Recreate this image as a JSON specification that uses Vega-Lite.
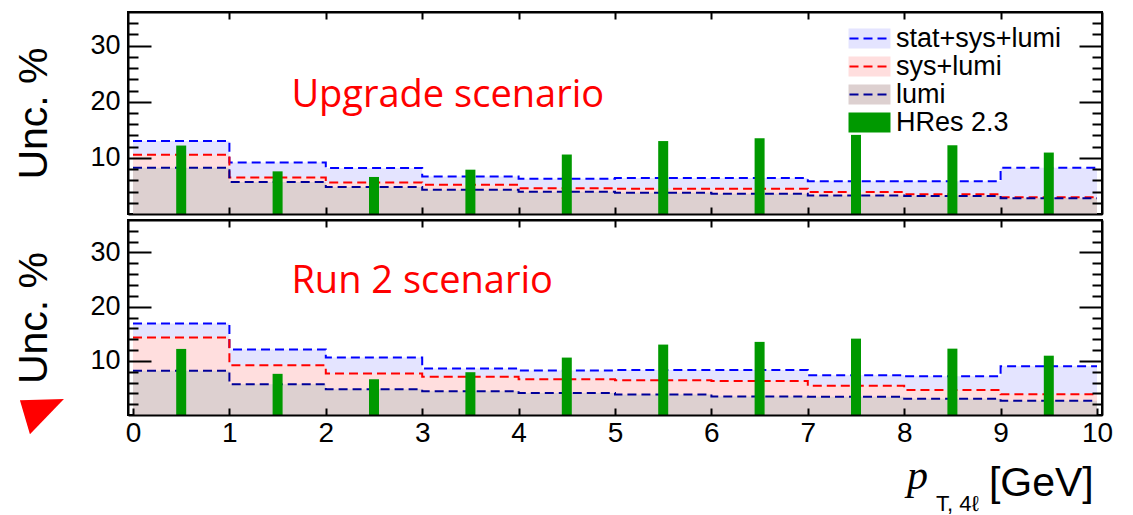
{
  "$schema": "https://vega.github.io/schema/vega-lite/v6.json",
  "padding": {"left": 12, "top": 8, "right": 0, "bottom": 0},
  "background": "white",
  "datasets": {
    "unc": [
      {"scenario": "Upgrade", "series": "stat+sys+lumi", "lo": 0, "hi": 1, "unc": 13.0},
      {"scenario": "Upgrade", "series": "stat+sys+lumi", "lo": 1, "hi": 2, "unc": 9.2},
      {"scenario": "Upgrade", "series": "stat+sys+lumi", "lo": 2, "hi": 3, "unc": 8.2},
      {"scenario": "Upgrade", "series": "stat+sys+lumi", "lo": 3, "hi": 4, "unc": 6.7},
      {"scenario": "Upgrade", "series": "stat+sys+lumi", "lo": 4, "hi": 5, "unc": 6.3},
      {"scenario": "Upgrade", "series": "stat+sys+lumi", "lo": 5, "hi": 6, "unc": 6.4},
      {"scenario": "Upgrade", "series": "stat+sys+lumi", "lo": 6, "hi": 7, "unc": 6.4},
      {"scenario": "Upgrade", "series": "stat+sys+lumi", "lo": 7, "hi": 8, "unc": 5.85},
      {"scenario": "Upgrade", "series": "stat+sys+lumi", "lo": 8, "hi": 9, "unc": 5.85},
      {"scenario": "Upgrade", "series": "stat+sys+lumi", "lo": 9, "hi": 10, "unc": 8.25},
      {"scenario": "Upgrade", "series": "sys+lumi", "lo": 0, "hi": 1, "unc": 10.55},
      {"scenario": "Upgrade", "series": "sys+lumi", "lo": 1, "hi": 2, "unc": 6.5},
      {"scenario": "Upgrade", "series": "sys+lumi", "lo": 2, "hi": 3, "unc": 5.6},
      {"scenario": "Upgrade", "series": "sys+lumi", "lo": 3, "hi": 4, "unc": 5.2},
      {"scenario": "Upgrade", "series": "sys+lumi", "lo": 4, "hi": 5, "unc": 4.6},
      {"scenario": "Upgrade", "series": "sys+lumi", "lo": 5, "hi": 6, "unc": 4.5},
      {"scenario": "Upgrade", "series": "sys+lumi", "lo": 6, "hi": 7, "unc": 4.5},
      {"scenario": "Upgrade", "series": "sys+lumi", "lo": 7, "hi": 8, "unc": 3.9},
      {"scenario": "Upgrade", "series": "sys+lumi", "lo": 8, "hi": 9, "unc": 3.5},
      {"scenario": "Upgrade", "series": "sys+lumi", "lo": 9, "hi": 10, "unc": 3.0},
      {"scenario": "Upgrade", "series": "lumi", "lo": 0, "hi": 1, "unc": 8.25},
      {"scenario": "Upgrade", "series": "lumi", "lo": 1, "hi": 2, "unc": 5.7},
      {"scenario": "Upgrade", "series": "lumi", "lo": 2, "hi": 3, "unc": 4.8},
      {"scenario": "Upgrade", "series": "lumi", "lo": 3, "hi": 4, "unc": 4.3},
      {"scenario": "Upgrade", "series": "lumi", "lo": 4, "hi": 5, "unc": 3.95},
      {"scenario": "Upgrade", "series": "lumi", "lo": 5, "hi": 6, "unc": 3.8},
      {"scenario": "Upgrade", "series": "lumi", "lo": 6, "hi": 7, "unc": 3.6},
      {"scenario": "Upgrade", "series": "lumi", "lo": 7, "hi": 8, "unc": 3.3},
      {"scenario": "Upgrade", "series": "lumi", "lo": 8, "hi": 9, "unc": 3.2},
      {"scenario": "Upgrade", "series": "lumi", "lo": 9, "hi": 10, "unc": 2.8},
      {"scenario": "Run2", "series": "stat+sys+lumi", "lo": 0, "hi": 1, "unc": 16.9},
      {"scenario": "Run2", "series": "stat+sys+lumi", "lo": 1, "hi": 2, "unc": 12.1},
      {"scenario": "Run2", "series": "stat+sys+lumi", "lo": 2, "hi": 3, "unc": 10.6},
      {"scenario": "Run2", "series": "stat+sys+lumi", "lo": 3, "hi": 4, "unc": 8.6},
      {"scenario": "Run2", "series": "stat+sys+lumi", "lo": 4, "hi": 5, "unc": 8.2},
      {"scenario": "Run2", "series": "stat+sys+lumi", "lo": 5, "hi": 6, "unc": 8.3},
      {"scenario": "Run2", "series": "stat+sys+lumi", "lo": 6, "hi": 7, "unc": 8.3},
      {"scenario": "Run2", "series": "stat+sys+lumi", "lo": 7, "hi": 8, "unc": 7.35},
      {"scenario": "Run2", "series": "stat+sys+lumi", "lo": 8, "hi": 9, "unc": 7.15},
      {"scenario": "Run2", "series": "stat+sys+lumi", "lo": 9, "hi": 10, "unc": 9.0},
      {"scenario": "Run2", "series": "sys+lumi", "lo": 0, "hi": 1, "unc": 14.3},
      {"scenario": "Run2", "series": "sys+lumi", "lo": 1, "hi": 2, "unc": 9.2},
      {"scenario": "Run2", "series": "sys+lumi", "lo": 2, "hi": 3, "unc": 7.65},
      {"scenario": "Run2", "series": "sys+lumi", "lo": 3, "hi": 4, "unc": 7.05},
      {"scenario": "Run2", "series": "sys+lumi", "lo": 4, "hi": 5, "unc": 6.6},
      {"scenario": "Run2", "series": "sys+lumi", "lo": 5, "hi": 6, "unc": 6.4},
      {"scenario": "Run2", "series": "sys+lumi", "lo": 6, "hi": 7, "unc": 6.3},
      {"scenario": "Run2", "series": "sys+lumi", "lo": 7, "hi": 8, "unc": 5.4},
      {"scenario": "Run2", "series": "sys+lumi", "lo": 8, "hi": 9, "unc": 4.6},
      {"scenario": "Run2", "series": "sys+lumi", "lo": 9, "hi": 10, "unc": 3.85},
      {"scenario": "Run2", "series": "lumi", "lo": 0, "hi": 1, "unc": 8.15},
      {"scenario": "Run2", "series": "lumi", "lo": 1, "hi": 2, "unc": 5.7},
      {"scenario": "Run2", "series": "lumi", "lo": 2, "hi": 3, "unc": 4.75},
      {"scenario": "Run2", "series": "lumi", "lo": 3, "hi": 4, "unc": 4.4},
      {"scenario": "Run2", "series": "lumi", "lo": 4, "hi": 5, "unc": 4.05},
      {"scenario": "Run2", "series": "lumi", "lo": 5, "hi": 6, "unc": 3.8},
      {"scenario": "Run2", "series": "lumi", "lo": 6, "hi": 7, "unc": 3.4},
      {"scenario": "Run2", "series": "lumi", "lo": 7, "hi": 8, "unc": 3.35},
      {"scenario": "Run2", "series": "lumi", "lo": 8, "hi": 9, "unc": 3.0},
      {"scenario": "Run2", "series": "lumi", "lo": 9, "hi": 10, "unc": 2.65}
    ],
    "hres": [
      {"center": 0.5, "unc": 12.2, "series": "HRes 2.3"},
      {"center": 1.5, "unc": 7.6, "series": "HRes 2.3"},
      {"center": 2.5, "unc": 6.6, "series": "HRes 2.3"},
      {"center": 3.5, "unc": 7.9, "series": "HRes 2.3"},
      {"center": 4.5, "unc": 10.6, "series": "HRes 2.3"},
      {"center": 5.5, "unc": 13.0, "series": "HRes 2.3"},
      {"center": 6.5, "unc": 13.5, "series": "HRes 2.3"},
      {"center": 7.5, "unc": 14.1, "series": "HRes 2.3"},
      {"center": 8.5, "unc": 12.25, "series": "HRes 2.3"},
      {"center": 9.5, "unc": 10.95, "series": "HRes 2.3"}
    ]
  },
  "spacing": -2,
  "resolve": {"scale": {"x": "independent", "y": "independent", "fill": "independent", "stroke": "independent"}},
  "vconcat": [
    {
      "width": 974,
      "height": 202,
      "resolve": {"axis": {"x": "independent", "y": "independent"}},
      "layer": [
        {
          "data": {"name": "unc"},
          "transform": [
            {"filter": "datum.scenario === 'Upgrade' && datum.series === 'stat+sys+lumi'"},
            {"fold": ["lo", "hi"], "as": ["edge", "x"]}
          ],
          "mark": {"type": "area", "opacity": 1},
          "encoding": {
            "x": {"field": "x", "type": "quantitative", "scale": {"domain": [0, 10], "nice": false, "zero": false},
              "axis": {"orient": "bottom", "values": [1, 2, 3, 4, 5, 6, 7, 8, 9], "labels": false, "tickSize": -7, "tickWidth": 2, "tickColor": "black", "domain": true, "domainColor": "black", "domainWidth": 2, "grid": false, "title": null, "zindex": 1}},
            "y": {"field": "unc", "type": "quantitative", "stack": null, "scale": {"domain": [0, 36], "nice": false},
              "axis": {"orient": "left", "values": [2, 4, 6, 8, 10, 12, 14, 16, 18, 20, 22, 24, 26, 28, 30, 32, 34], "labelExpr": "datum.value % 10 === 0 ? datum.label : ''", "labelOverlap": false, "tickSize": {"condition": {"test": "datum.value % 10 === 0", "value": -23}, "value": -10}, "tickWidth": 2, "tickColor": "black", "labelPadding": 31, "labelFont": "Liberation Sans", "labelFontSize": 27, "labelColor": "black", "domain": true, "domainColor": "black", "domainWidth": 2, "grid": false, "title": "Unc. %", "titleFont": "Liberation Sans", "titleFontSize": 41, "titleFontWeight": "normal", "titleColor": "black", "titlePadding": 34, "zindex": 1}},
            "fill": {"field": "series", "type": "nominal",
              "scale": {"domain": ["stat+sys+lumi", "sys+lumi", "lumi", "HRes 2.3"], "range": ["#e4e4ff", "#ffdede", "#ddd0d0", "#009900"]},
              "legend": {"orient": "none", "legendX": 728, "legendY": 13, "title": null, "direction": "vertical", "symbolType": "M-1.615,-0.769H1.615V0.769H-1.615Z", "symbolSize": 676, "symbolStrokeWidth": 0, "symbolOpacity": 1, "labelFont": "Liberation Sans", "labelFontSize": 27, "labelColor": "black", "labelOffset": 13, "labelLimit": 300, "rowPadding": 0, "padding": 0}},
            "order": [{"field": "x", "type": "quantitative"}, {"field": "edge", "type": "nominal"}]
          }
        },
        {
          "data": {"name": "unc"},
          "transform": [
            {"filter": "datum.scenario === 'Upgrade' && datum.series === 'sys+lumi'"},
            {"fold": ["lo", "hi"], "as": ["edge", "x"]}
          ],
          "mark": {"type": "area", "opacity": 1},
          "encoding": {
            "x": {"field": "x", "type": "quantitative", "axis": null},
            "y": {"field": "unc", "type": "quantitative", "stack": null, "axis": null},
            "fill": {"field": "series", "type": "nominal", "legend": null},
            "order": [{"field": "x", "type": "quantitative"}, {"field": "edge", "type": "nominal"}]
          }
        },
        {
          "data": {"name": "unc"},
          "transform": [
            {"filter": "datum.scenario === 'Upgrade' && datum.series === 'lumi'"},
            {"fold": ["lo", "hi"], "as": ["edge", "x"]}
          ],
          "mark": {"type": "area", "opacity": 1},
          "encoding": {
            "x": {"field": "x", "type": "quantitative", "axis": null},
            "y": {"field": "unc", "type": "quantitative", "stack": null, "axis": null},
            "fill": {"field": "series", "type": "nominal", "legend": null},
            "order": [{"field": "x", "type": "quantitative"}, {"field": "edge", "type": "nominal"}]
          }
        },
        {
          "data": {"name": "unc"},
          "transform": [
            {"filter": "datum.scenario === 'Upgrade'"},
            {"fold": ["lo", "hi"], "as": ["edge", "x"]}
          ],
          "mark": {"type": "line", "strokeDash": [9, 5], "strokeWidth": 2, "opacity": 1},
          "encoding": {
            "x": {"field": "x", "type": "quantitative",
              "axis": {"orient": "top", "values": [1, 2, 3, 4, 5, 6, 7, 8, 9], "labels": false, "tickSize": -7, "tickWidth": 2, "tickColor": "black", "domain": true, "domainColor": "black", "domainWidth": 2, "grid": false, "title": null, "zindex": 1}},
            "y": {"field": "unc", "type": "quantitative",
              "axis": {"orient": "right", "values": [2, 4, 6, 8, 10, 12, 14, 16, 18, 20, 22, 24, 26, 28, 30, 32, 34], "labels": false, "tickSize": {"condition": {"test": "datum.value % 10 === 0", "value": -23}, "value": -10}, "tickWidth": 2, "tickColor": "black", "domain": true, "domainColor": "black", "domainWidth": 2, "grid": false, "title": null, "zindex": 1}},
            "stroke": {"field": "series", "type": "nominal",
              "scale": {"domain": ["stat+sys+lumi", "sys+lumi", "lumi"], "range": ["#0000ff", "#ff0000", "#000099"]},
              "legend": {"orient": "none", "legendX": 729, "legendY": 13, "title": null, "direction": "vertical", "symbolType": "M-1.75,0H1.75", "symbolSize": 576, "symbolStrokeWidth": 2, "symbolDash": [9, 5], "symbolOpacity": 1, "symbolFillColor": "transparent", "labelFont": "Liberation Sans", "labelFontSize": 27, "labelOpacity": 0, "labelOffset": 14, "labelLimit": 300, "rowPadding": 0, "padding": 0}},
            "order": [{"field": "x", "type": "quantitative"}, {"field": "edge", "type": "nominal"}]
          }
        },
        {
          "data": {"name": "hres"},
          "mark": {"type": "bar", "size": 10, "orient": "vertical", "opacity": 1},
          "encoding": {
            "x": {"field": "center", "type": "quantitative", "axis": null},
            "y": {"field": "unc", "type": "quantitative", "stack": null, "axis": null},
            "fill": {"field": "series", "type": "nominal", "legend": null}
          }
        },
        {
          "data": {"values": [{}]},
          "mark": {"type": "text", "text": "Upgrade scenario", "font": "Open Sans", "fontSize": 38, "color": "#ff0000", "align": "left", "baseline": "alphabetic"},
          "encoding": {
            "x": {"datum": 1.643, "type": "quantitative", "axis": null},
            "y": {"datum": 19.0, "type": "quantitative", "axis": null}
          }
        }
      ]
    },
    {
      "width": 974,
      "height": 195,
      "resolve": {"axis": {"x": "independent", "y": "independent"}},
      "layer": [
        {
          "data": {"name": "unc"},
          "transform": [
            {"filter": "datum.scenario === 'Run2' && datum.series === 'stat+sys+lumi'"},
            {"fold": ["lo", "hi"], "as": ["edge", "x"]}
          ],
          "mark": {"type": "area", "opacity": 1},
          "encoding": {
            "x": {"field": "x", "type": "quantitative", "scale": {"domain": [0, 10], "nice": false, "zero": false},
              "axis": {"orient": "bottom", "values": [0, 1, 2, 3, 4, 5, 6, 7, 8, 9, 10], "labels": true, "labelFlush": false, "labelOverlap": false, "labelPadding": 11.5, "labelFont": "Liberation Sans", "labelFontSize": 28, "labelColor": "black", "tickSize": -7, "tickWidth": 2, "tickColor": "black", "domain": true, "domainColor": "black", "domainWidth": 2, "grid": false, "title": null, "zindex": 1}},
            "y": {"field": "unc", "type": "quantitative", "stack": null, "scale": {"domain": [0, 36], "nice": false},
              "axis": {"orient": "left", "values": [2, 4, 6, 8, 10, 12, 14, 16, 18, 20, 22, 24, 26, 28, 30, 32, 34], "labelExpr": "datum.value % 10 === 0 ? datum.label : ''", "labelOverlap": false, "tickSize": {"condition": {"test": "datum.value % 10 === 0", "value": -23}, "value": -10}, "tickWidth": 2, "tickColor": "black", "labelPadding": 31, "labelFont": "Liberation Sans", "labelFontSize": 27, "labelColor": "black", "domain": true, "domainColor": "black", "domainWidth": 2, "grid": false, "title": "Unc. %", "titleFont": "Liberation Sans", "titleFontSize": 41, "titleFontWeight": "normal", "titleColor": "black", "titlePadding": 34, "zindex": 1}},
            "fill": {"field": "series", "type": "nominal",
              "scale": {"domain": ["stat+sys+lumi", "sys+lumi", "lumi", "HRes 2.3"], "range": ["#e4e4ff", "#ffdede", "#ddd0d0", "#009900"]},
              "legend": null},
            "order": [{"field": "x", "type": "quantitative"}, {"field": "edge", "type": "nominal"}]
          }
        },
        {
          "data": {"name": "unc"},
          "transform": [
            {"filter": "datum.scenario === 'Run2' && datum.series === 'sys+lumi'"},
            {"fold": ["lo", "hi"], "as": ["edge", "x"]}
          ],
          "mark": {"type": "area", "opacity": 1},
          "encoding": {
            "x": {"field": "x", "type": "quantitative", "axis": null},
            "y": {"field": "unc", "type": "quantitative", "stack": null, "axis": null},
            "fill": {"field": "series", "type": "nominal", "legend": null},
            "order": [{"field": "x", "type": "quantitative"}, {"field": "edge", "type": "nominal"}]
          }
        },
        {
          "data": {"name": "unc"},
          "transform": [
            {"filter": "datum.scenario === 'Run2' && datum.series === 'lumi'"},
            {"fold": ["lo", "hi"], "as": ["edge", "x"]}
          ],
          "mark": {"type": "area", "opacity": 1},
          "encoding": {
            "x": {"field": "x", "type": "quantitative", "axis": null},
            "y": {"field": "unc", "type": "quantitative", "stack": null, "axis": null},
            "fill": {"field": "series", "type": "nominal", "legend": null},
            "order": [{"field": "x", "type": "quantitative"}, {"field": "edge", "type": "nominal"}]
          }
        },
        {
          "data": {"name": "unc"},
          "transform": [
            {"filter": "datum.scenario === 'Run2'"},
            {"fold": ["lo", "hi"], "as": ["edge", "x"]}
          ],
          "mark": {"type": "line", "strokeDash": [9, 5], "strokeWidth": 2, "opacity": 1},
          "encoding": {
            "x": {"field": "x", "type": "quantitative",
              "axis": {"orient": "top", "values": [1, 2, 3, 4, 5, 6, 7, 8, 9], "labels": false, "tickSize": -7, "tickWidth": 2, "tickColor": "black", "domain": true, "domainColor": "black", "domainWidth": 2, "grid": false, "title": null, "zindex": 1}},
            "y": {"field": "unc", "type": "quantitative",
              "axis": {"orient": "right", "values": [2, 4, 6, 8, 10, 12, 14, 16, 18, 20, 22, 24, 26, 28, 30, 32, 34], "labels": false, "tickSize": {"condition": {"test": "datum.value % 10 === 0", "value": -23}, "value": -10}, "tickWidth": 2, "tickColor": "black", "domain": true, "domainColor": "black", "domainWidth": 2, "grid": false, "title": null, "zindex": 1}},
            "stroke": {"field": "series", "type": "nominal",
              "scale": {"domain": ["stat+sys+lumi", "sys+lumi", "lumi"], "range": ["#0000ff", "#ff0000", "#000099"]},
              "legend": null},
            "order": [{"field": "x", "type": "quantitative"}, {"field": "edge", "type": "nominal"}]
          }
        },
        {
          "data": {"name": "hres"},
          "mark": {"type": "bar", "size": 10, "orient": "vertical", "opacity": 1},
          "encoding": {
            "x": {"field": "center", "type": "quantitative", "axis": null},
            "y": {"field": "unc", "type": "quantitative", "stack": null, "axis": null},
            "fill": {"field": "series", "type": "nominal", "legend": null}
          }
        },
        {
          "data": {"values": [{}]},
          "mark": {"type": "text", "text": "Run 2 scenario", "font": "Open Sans", "fontSize": 38, "color": "#ff0000", "align": "left", "baseline": "alphabetic"},
          "encoding": {
            "x": {"datum": 1.643, "type": "quantitative", "axis": null},
            "y": {"datum": 22.5, "type": "quantitative", "axis": null}
          }
        },
        {
          "data": {"values": [{}]},
          "mark": {"type": "text", "text": "p", "font": "Liberation Serif", "fontStyle": "italic", "fontSize": 42, "color": "black", "align": "left", "baseline": "alphabetic"},
          "encoding": {
            "x": {"datum": 8.03, "type": "quantitative", "axis": null},
            "y": {"datum": -13.6, "type": "quantitative", "axis": null}
          }
        },
        {
          "data": {"values": [{}]},
          "mark": {"type": "text", "text": "T, 4ℓ", "font": "Liberation Sans", "fontSize": 22, "color": "black", "align": "left", "baseline": "alphabetic"},
          "encoding": {
            "x": {"datum": 8.33, "type": "quantitative", "axis": null},
            "y": {"datum": -17.8, "type": "quantitative", "axis": null}
          }
        },
        {
          "data": {"values": [{}]},
          "mark": {"type": "text", "text": "[GeV]", "font": "Liberation Sans", "fontSize": 41, "color": "black", "align": "right", "baseline": "alphabetic"},
          "encoding": {
            "x": {"datum": 9.966, "type": "quantitative", "axis": null},
            "y": {"datum": -15.0, "type": "quantitative", "axis": null}
          }
        },
        {
          "data": {"values": [{}]},
          "mark": {"type": "point", "shape": "M-0.955,-0.55L1.045,-0.6L-0.5,1.0Z", "size": 1936, "filled": true, "fill": "#ff0000", "stroke": null, "opacity": 1},
          "encoding": {
            "x": {"datum": -0.955, "type": "quantitative", "axis": null},
            "y": {"datum": 0.5, "type": "quantitative", "axis": null}
          }
        }
      ]
    }
  ],
  "config": {
    "view": {"stroke": "black", "strokeWidth": 2},
    "font": "Liberation Sans"
  }
}
